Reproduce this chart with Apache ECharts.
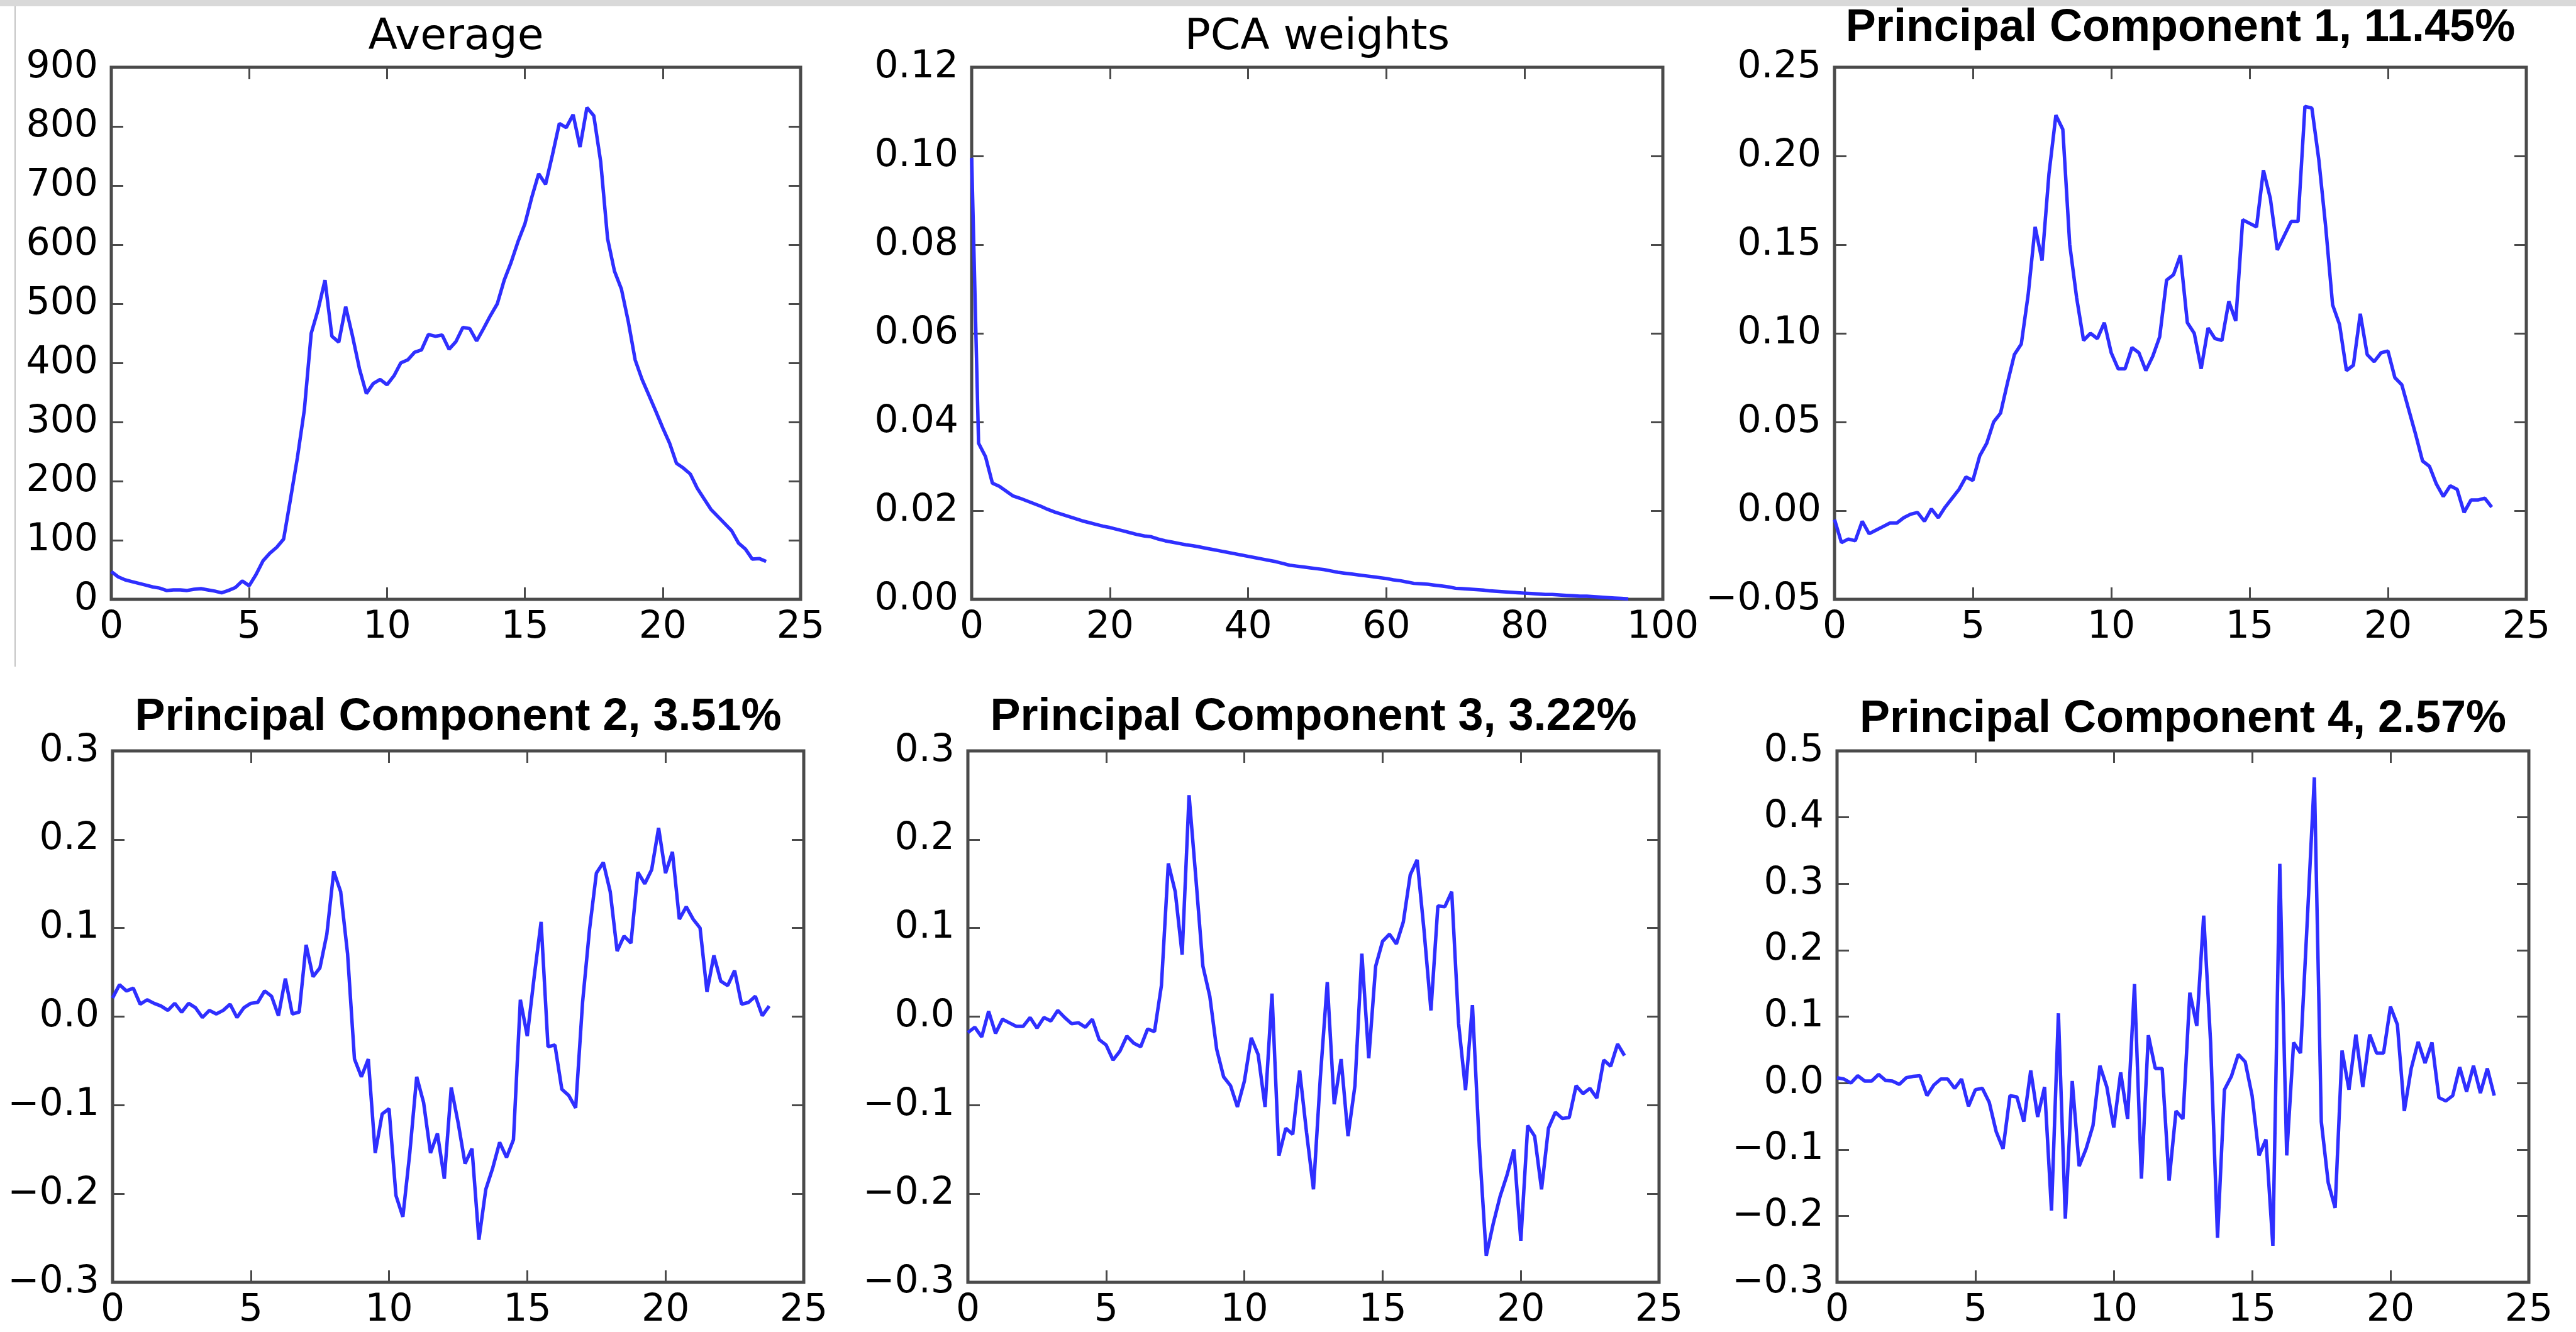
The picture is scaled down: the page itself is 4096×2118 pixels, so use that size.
<!DOCTYPE html>
<html><head><meta charset="utf-8">
<script src="https://cdn.jsdelivr.net/npm/echarts@6/dist/echarts.min.js"></script>
<style>html,body{margin:0;padding:0;background:#fff}#c{width:4096px;height:2118px}</style>
</head><body><div id="c"></div>
<script>
// ---- data ----
const hours = Array.from({length: 96}, (_, i) => i * 0.25);
const components = Array.from({length: 96}, (_, i) => i);

const averageValues = [47, 38, 33, 30, 27, 24, 21, 19, 15, 16,
  16, 15, 17, 18, 16, 14, 11, 15, 20, 31,
  23, 42, 65, 78, 88, 102, 170, 240, 320, 450,
  490, 540, 445, 435, 495, 445, 390, 348, 365, 372,
  363, 378, 400, 405, 418, 422, 448, 445, 447, 423,
  436, 460, 458, 437, 458, 480, 500, 540, 570, 605,
  635, 680, 720, 702, 752, 805, 798, 820, 765, 832,
  818, 740, 610, 555, 525, 470, 405, 372, 345, 318,
  290, 264, 230, 222, 212, 188, 170, 152, 140, 128,
  116, 95, 85, 68, 69, 64];

const pcaWeights = [0.0996, 0.0352, 0.0322, 0.0262, 0.0255, 0.0244, 0.0233, 0.0228, 0.0222, 0.0216,
  0.0210, 0.0203, 0.0197, 0.0192, 0.0187, 0.0182, 0.0177, 0.0173, 0.0169, 0.0165,
  0.0162, 0.0158, 0.0154, 0.0150, 0.0146, 0.0143, 0.0141, 0.0136, 0.0132, 0.0129,
  0.0126, 0.0123, 0.0121, 0.0118, 0.0115, 0.0112, 0.0109, 0.0106, 0.0103, 0.0100,
  0.0097, 0.0094, 0.0091, 0.0088, 0.0085, 0.0081, 0.0077, 0.0075, 0.0073, 0.0071,
  0.0069, 0.0067, 0.0064, 0.0061, 0.0059, 0.0057, 0.0055, 0.0053, 0.0051, 0.0049,
  0.0047, 0.0044, 0.0042, 0.0039, 0.0036, 0.0035, 0.0034, 0.0032, 0.0030, 0.0028,
  0.0025, 0.0024, 0.0023, 0.0022, 0.0021, 0.0019, 0.0018, 0.0017, 0.0016, 0.0015,
  0.0014, 0.0013, 0.0012, 0.0011, 0.0011, 0.0010, 0.0009, 0.0008, 0.0007, 0.0007,
  0.0006, 0.0005, 0.0004, 0.0003, 0.0002, 0.0001];

const pc1Values = [-0.005, -0.018, -0.016, -0.017, -0.006, -0.013, -0.011, -0.009, -0.007, -0.007,
  -0.004, -0.002, -0.001, -0.006, 0.001, -0.004, 0.002, 0.007, 0.012, 0.019,
  0.017, 0.031, 0.038, 0.050, 0.055, 0.072, 0.088, 0.094, 0.122, 0.160,
  0.141, 0.190, 0.223, 0.215, 0.150, 0.120, 0.096, 0.100, 0.097, 0.106,
  0.089, 0.080, 0.080, 0.092, 0.089, 0.079, 0.087, 0.098, 0.130, 0.133,
  0.144, 0.106, 0.100, 0.080, 0.103, 0.097, 0.096, 0.118, 0.107, 0.164,
  0.162, 0.160, 0.192, 0.176, 0.147, 0.155, 0.163, 0.163, 0.228, 0.227,
  0.198, 0.160, 0.116, 0.105, 0.079, 0.082, 0.111, 0.088, 0.084, 0.089,
  0.090, 0.075, 0.071, 0.057, 0.043, 0.028, 0.025, 0.015, 0.008, 0.014,
  0.012, -0.001, 0.006, 0.006, 0.007, 0.002];

const pc2Values = [0.021, 0.036, 0.029, 0.032, 0.014, 0.019, 0.015, 0.012, 0.007, 0.015,
  0.005, 0.015, 0.010, -0.001, 0.007, 0.003, 0.007, 0.014, -0.001, 0.010,
  0.015, 0.016, 0.029, 0.023, 0.001, 0.043, 0.003, 0.005, 0.081, 0.045,
  0.055, 0.093, 0.164, 0.141, 0.071, -0.048, -0.068, -0.048, -0.154, -0.110,
  -0.104, -0.202, -0.226, -0.154, -0.068, -0.097, -0.154, -0.132, -0.183, -0.080,
  -0.120, -0.166, -0.149, -0.252, -0.195, -0.171, -0.142, -0.159, -0.139, 0.019,
  -0.022, 0.045, 0.107, -0.034, -0.032, -0.082, -0.089, -0.103, 0.016, 0.098,
  0.162, 0.174, 0.141, 0.074, 0.091, 0.083, 0.163, 0.150, 0.166, 0.213,
  0.162, 0.186, 0.110, 0.124, 0.110, 0.100, 0.028, 0.069, 0.040, 0.035,
  0.052, 0.014, 0.016, 0.023, 0.001, 0.012];

const pc3Values = [-0.018, -0.012, -0.023, 0.006, -0.019, -0.003, -0.007, -0.011, -0.011, -0.001,
  -0.013, -0.001, -0.005, 0.007, -0.001, -0.008, -0.007, -0.012, -0.003, -0.026,
  -0.032, -0.049, -0.039, -0.022, -0.030, -0.034, -0.014, -0.017, 0.035, 0.173,
  0.141, 0.070, 0.250, 0.155, 0.057, 0.023, -0.037, -0.068, -0.078, -0.102,
  -0.073, -0.024, -0.043, -0.102, 0.026, -0.157, -0.126, -0.133, -0.061, -0.131,
  -0.195, -0.068, 0.039, -0.099, -0.048, -0.135, -0.078, 0.071, -0.047, 0.057,
  0.085, 0.093, 0.082, 0.107, 0.160, 0.177, 0.097, 0.007, 0.125, 0.124,
  0.141, -0.008, -0.083, 0.013, -0.147, -0.270, -0.234, -0.203, -0.179, -0.150,
  -0.253, -0.123, -0.135, -0.195, -0.126, -0.108, -0.115, -0.114, -0.078, -0.087,
  -0.081, -0.092, -0.049, -0.056, -0.031, -0.044];

const pc4Values = [0.008, 0.006, 0.000, 0.011, 0.003, 0.003, 0.013, 0.004, 0.003, -0.002,
  0.008, 0.010, 0.011, -0.019, -0.003, 0.006, 0.006, -0.008, 0.006, -0.035,
  -0.010, -0.008, -0.029, -0.073, -0.099, -0.019, -0.021, -0.058, 0.019, -0.051,
  -0.006, -0.192, 0.105, -0.204, 0.003, -0.125, -0.099, -0.064, 0.026, -0.006,
  -0.067, 0.016, -0.054, 0.149, -0.144, 0.072, 0.022, 0.022, -0.147, -0.042,
  -0.054, 0.136, 0.086, 0.252, 0.061, -0.233, -0.010, 0.010, 0.043, 0.032,
  -0.019, -0.109, -0.085, -0.245, 0.330, -0.109, 0.061, 0.045, 0.250, 0.460,
  -0.058, -0.150, -0.188, 0.049, -0.010, 0.073, -0.006, 0.073, 0.045, 0.045,
  0.115, 0.088, -0.042, 0.022, 0.062, 0.030, 0.061, -0.022, -0.027, -0.019,
  0.024, -0.013, 0.026, -0.015, 0.022, -0.019];

const titles = ['Average', 'PCA weights', 'Principal Component 1, 11.45%',
  'Principal Component 2, 3.51%', 'Principal Component 3, 3.22%', 'Principal Component 4, 2.57%'];

const xTickLabelsHours = ['0', '5', '10', '15', '20', '25'];
const xTickLabelsComponents = ['0', '20', '40', '60', '80', '100'];
const yTickLabelsAverage = ['0', '100', '200', '300', '400', '500', '600', '700', '800', '900'];
const yTickLabelsWeights = ['0.00', '0.02', '0.04', '0.06', '0.08', '0.10', '0.12'];
const yTickLabelsPC1 = ['\u22120.05', '0.00', '0.05', '0.10', '0.15', '0.20', '0.25'];
const yTickLabelsPC23 = ['\u22120.3', '\u22120.2', '\u22120.1', '0.0', '0.1', '0.2', '0.3'];
const yTickLabelsPC4 = ['\u22120.3', '\u22120.2', '\u22120.1', '0.0', '0.1', '0.2', '0.3', '0.4', '0.5'];

// ---- layout ----
const panels = [
  {rect: [177, 107, 1096, 846], x: hours, y: averageValues, xr: [0, 25, 5], yr: [0, 900, 100], xl: xTickLabelsHours, yl: yTickLabelsAverage, bold: false, ty: 60},
  {rect: [1545, 107, 1099, 846], x: components, y: pcaWeights, xr: [0, 100, 20], yr: [0, 0.12, 0.02], xl: xTickLabelsComponents, yl: yTickLabelsWeights, bold: false, ty: 60},
  {rect: [2917, 107, 1100, 846], x: hours, y: pc1Values, xr: [0, 25, 5], yr: [-0.05, 0.25, 0.05], xl: xTickLabelsHours, yl: yTickLabelsPC1, bold: true, ty: 45},
  {rect: [179, 1194, 1099, 845], x: hours, y: pc2Values, xr: [0, 25, 5], yr: [-0.3, 0.3, 0.1], xl: xTickLabelsHours, yl: yTickLabelsPC23, bold: true, ty: 1141},
  {rect: [1539, 1194, 1099, 845], x: hours, y: pc3Values, xr: [0, 25, 5], yr: [-0.3, 0.3, 0.1], xl: xTickLabelsHours, yl: yTickLabelsPC23, bold: true, ty: 1141},
  {rect: [2921, 1194, 1100, 845], x: hours, y: pc4Values, xr: [0, 25, 5], yr: [-0.3, 0.5, 0.1], xl: xTickLabelsHours, yl: yTickLabelsPC4, bold: true, ty: 1144}
];

const frameColor = '#4a4a4a';
const lineColor = '#2f2fff';
const tickFont = 'DejaVu Sans';

const grid = [], xAxis = [], yAxis = [], series = [], graphic = [];

graphic.push({type: 'rect', shape: {x: 0, y: 0, width: 4096, height: 10}, style: {fill: '#d9d9d9'}, silent: true});
graphic.push({type: 'line', shape: {x1: 24, y1: 10, x2: 24, y2: 1060}, style: {stroke: '#c4c4c4', lineWidth: 2}, silent: true});

panels.forEach((p, i) => {
  const [l, t, w, h] = p.rect;
  grid.push({left: l, top: t, width: w, height: h, show: true, borderColor: frameColor, borderWidth: 5, backgroundColor: 'transparent', containLabel: false});
  const tick = {show: true, inside: true, length: 19, lineStyle: {color: frameColor, width: 3}};
  const common = {type: 'value', gridIndex: i, splitLine: {show: false}, axisLine: {show: false, onZero: false}, axisTick: tick};
  xAxis.push(Object.assign({}, common, {
    position: 'bottom', min: p.xr[0], max: p.xr[1], interval: p.xr[2],
    axisLabel: {show: true, margin: 15, fontFamily: tickFont, fontSize: 60, color: '#000',
      showMinLabel: true, showMaxLabel: true, formatter: (v, idx) => p.xl[idx]}
  }));
  xAxis.push(Object.assign({}, common, {
    position: 'top', min: p.xr[0], max: p.xr[1], interval: p.xr[2], axisLabel: {show: false}
  }));
  yAxis.push(Object.assign({}, common, {
    position: 'left', min: p.yr[0], max: p.yr[1], interval: p.yr[2],
    axisLabel: {show: true, margin: 21, fontFamily: tickFont, fontSize: 60, color: '#000',
      padding: [0, 0, 12, 0], showMinLabel: true, showMaxLabel: true, formatter: (v, idx) => p.yl[idx]}
  }));
  yAxis.push(Object.assign({}, common, {
    position: 'right', min: p.yr[0], max: p.yr[1], interval: p.yr[2], axisLabel: {show: false}
  }));
  series.push({
    type: 'line', xAxisIndex: 2 * i, yAxisIndex: 2 * i,
    data: p.x.map((xv, k) => [xv, p.y[k]]),
    showSymbol: false, symbol: 'none', lineStyle: {color: lineColor, width: 5.5}, silent: true
  });
  graphic.push({
    type: 'text', x: l + w / 2, y: p.ty, silent: true,
    style: {
      text: titles[i], fill: '#000', align: 'center', verticalAlign: 'middle',
      fontFamily: p.bold ? 'Liberation Sans' : 'DejaVu Sans',
      fontWeight: p.bold ? 'bold' : 'normal',
      fontSize: p.bold ? 72 : 68
    }
  });
});

const chart = echarts.init(document.getElementById('c'), null, {renderer: 'canvas'});
chart.setOption({animation: false, backgroundColor: '#fff', grid, xAxis, yAxis, series, graphic});
</script></body></html>
